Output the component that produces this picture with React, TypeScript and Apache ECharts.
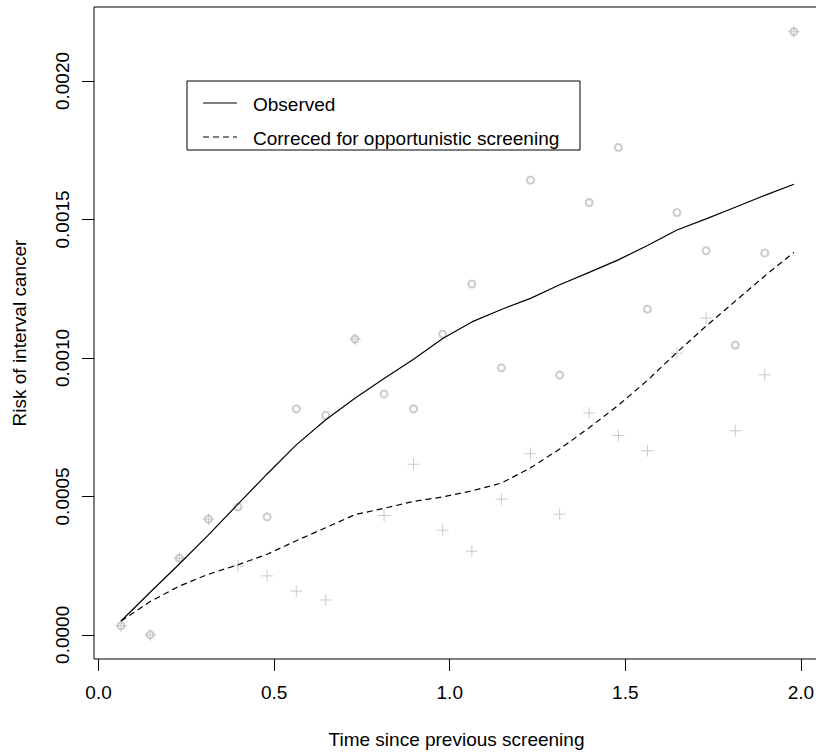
import React, { useEffect, useRef } from "react";
import * as echarts from "echarts";

const times = [0.064, 0.147, 0.23, 0.313, 0.397, 0.48, 0.563, 0.647, 0.73, 0.813, 0.897, 0.98, 1.063, 1.147, 1.23, 1.313, 1.397, 1.48, 1.563, 1.647, 1.73, 1.813, 1.897, 1.98];
const observedPoints = [0.000033, 0.0, 0.000277, 0.000418, 0.000462, 0.000426, 0.000816, 0.000793, 0.001068, 0.00087, 0.000816, 0.001086, 0.001267, 0.000964, 0.001642, 0.000938, 0.001561, 0.00176, 0.001176, 0.001525, 0.001387, 0.001046, 0.001379, 0.002178];
const correctedPoints = [0.000033, 0.0, 0.000277, 0.000418, 0.000249, 0.000213, 0.000158, 0.000126, 0.001068, 0.000431, 0.000616, 0.000378, 0.000302, 0.00049, 0.000654, 0.000436, 0.000801, 0.00072, 0.000665, 0.001017, 0.001144, 0.000737, 0.000939, 0.002178];
const observedCurve = [0.00005, 0.000154, 0.000256, 0.000361, 0.000472, 0.000581, 0.000686, 0.000777, 0.000854, 0.000926, 0.000995, 0.00107, 0.00113, 0.001175, 0.001215, 0.001264, 0.001309, 0.001354, 0.001406, 0.001462, 0.001502, 0.001544, 0.001587, 0.001627];
const correctedCurve = [0.00005, 0.00012, 0.000176, 0.000219, 0.000253, 0.000291, 0.00034, 0.000387, 0.000434, 0.000457, 0.000482, 0.000498, 0.00052, 0.000548, 0.000603, 0.000671, 0.000748, 0.000829, 0.000919, 0.00102, 0.001115, 0.001205, 0.001296, 0.001381];
const xTicks = [0, 0.5, 1.0, 1.5, 2.0];
const yTicks = [0, 0.0005, 0.001, 0.0015, 0.002];
const legendLabels = ["Observed", "Correced for opportunistic screening"];

const FONT = "'Liberation Sans', Arial, Helvetica, sans-serif";
const GRAY = "#bebebe";

export default function App() {
  const ref = useRef<HTMLDivElement>(null);
  useEffect(() => {
    if (!ref.current) return;
    const chart = echarts.init(ref.current, null, { renderer: "svg" });
    const pair = (ys: number[]) => times.map((t, i) => [t, ys[i]]);
    chart.setOption({
      animation: false,
      backgroundColor: "#ffffff",
      textStyle: { fontFamily: FONT },
      grid: {
        left: 94,
        top: 7,
        right: 11,
        bottom: 94,
        show: true,
        borderColor: "#000",
        borderWidth: 1,
        backgroundColor: "transparent",
        outerBoundsMode: "none",
        containLabel: false,
      },
      xAxis: {
        type: "value",
        min: -0.013,
        max: 2.0515,
        name: "Time since previous screening",
        nameLocation: "middle",
        nameGap: 71,
        nameTextStyle: { fontSize: 19, color: "#000", fontFamily: FONT },
        axisLine: { show: false, onZero: false },
        splitLine: { show: false },
        axisTick: {
          show: true,
          length: 12,
          customValues: xTicks,
          lineStyle: { color: "#000", width: 1 },
        },
        axisLabel: {
          customValues: xTicks,
          margin: 24,
          fontSize: 19,
          color: "#000",
          fontFamily: FONT,
          formatter: (v: number) => v.toFixed(1),
        },
      },
      yAxis: {
        type: "value",
        min: -0.0000872,
        max: 0.0022672,
        name: "Risk of interval cancer",
        nameLocation: "middle",
        nameGap: 65,
        nameRotate: 90,
        nameTextStyle: { fontSize: 19, color: "#000", fontFamily: FONT },
        axisLine: { show: false, onZero: false },
        splitLine: { show: false },
        axisTick: {
          show: true,
          length: 12,
          customValues: yTicks,
          lineStyle: { color: "#000", width: 1 },
        },
        axisLabel: {
          customValues: yTicks,
          rotate: 90,
          margin: 22,
          fontSize: 19,
          color: "#000",
          fontFamily: FONT,
          formatter: (v: number) => v.toFixed(4),
        },
      },
      series: [
        {
          type: "scatter",
          data: pair(observedPoints),
          symbol: "emptyCircle",
          symbolSize: 7,
          itemStyle: { color: GRAY, borderColor: GRAY, borderWidth: 1 },
          z: 1,
        },
        {
          type: "scatter",
          data: pair(correctedPoints),
          symbol: "path://M6,0L6,12M0,6L12,6",
          symbolSize: 12,
          itemStyle: { color: "none", borderColor: GRAY, borderWidth: 1 },
          z: 1,
        },
        {
          type: "line",
          data: pair(observedCurve),
          showSymbol: false,
          symbol: "none",
          lineStyle: { color: "#000", width: 1.2, type: "solid" },
          z: 3,
        },
        {
          type: "line",
          data: pair(correctedCurve),
          showSymbol: false,
          symbol: "none",
          lineStyle: { color: "#000", width: 1.2, type: [6, 4] },
          z: 3,
        },
      ],
      graphic: [
        {
          type: "rect",
          shape: { x: 187, y: 81, width: 393, height: 69 },
          style: { fill: "#fff", stroke: "#000", lineWidth: 1 },
          z: 10,
        },
        {
          type: "line",
          shape: { x1: 203, y1: 103, x2: 237, y2: 103 },
          style: { stroke: "#000", lineWidth: 1.2 },
          z: 11,
        },
        {
          type: "line",
          shape: { x1: 203, y1: 137, x2: 237, y2: 137 },
          style: { stroke: "#000", lineWidth: 1.2, lineDash: [6, 4] },
          z: 11,
        },
        {
          type: "text",
          x: 253,
          y: 104,
          style: { text: legendLabels[0], font: `19px ${FONT}`, fill: "#000", verticalAlign: "middle" },
          z: 11,
        },
        {
          type: "text",
          x: 253,
          y: 138,
          style: { text: legendLabels[1], font: `19px ${FONT}`, fill: "#000", verticalAlign: "middle" },
          z: 11,
        },
      ],
    });
    return () => chart.dispose();
  }, []);
  return (
    <div style={{ position: "absolute", left: 0, top: 0, width: 816, height: 753, overflow: "hidden" }}>
      <div ref={ref} style={{ width: 830, height: 753 }} />
    </div>
  );
}
